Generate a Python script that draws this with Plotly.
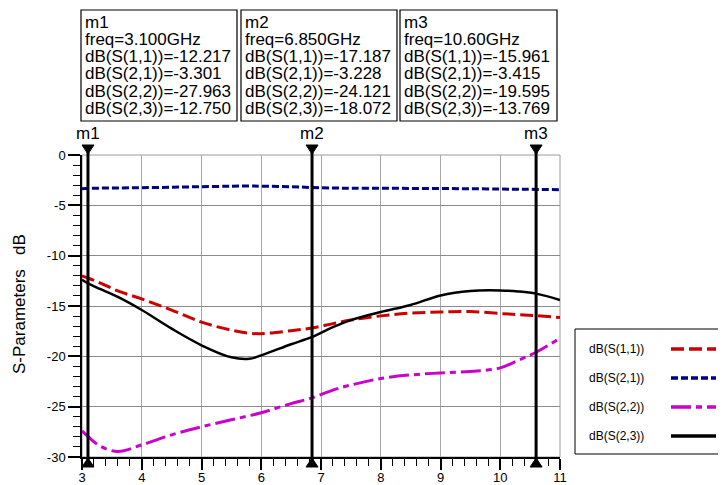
import plotly.graph_objects as go

# ---------------- data ----------------
freq = [3.0, 3.1, 3.3, 3.6, 4.0, 4.5, 5.0, 5.5, 5.8, 6.0, 6.5, 6.85, 7.2, 7.5,
        8.0, 8.5, 9.0, 9.5, 10.0, 10.3, 10.6, 11.0]
s11 = [-12.0, -12.217, -12.7, -13.5, -14.3, -15.4, -16.6, -17.4, -17.7, -17.75,
       -17.45, -17.187, -16.75, -16.4, -15.98, -15.7, -15.6, -15.55, -15.75,
       -15.85, -15.961, -16.15]
s21 = [-3.35, -3.301, -3.29, -3.27, -3.25, -3.2, -3.15, -3.1, -3.08, -3.1, -3.15,
       -3.228, -3.28, -3.3, -3.3, -3.32, -3.33, -3.35, -3.38, -3.4, -3.415, -3.45]
s22 = [-27.4, -27.963, -28.9, -29.45, -28.8, -27.8, -27.0, -26.3, -25.9, -25.6,
       -24.7, -24.121, -23.35, -22.85, -22.2, -21.85, -21.65, -21.5, -21.15,
       -20.4, -19.595, -18.2]
s23 = [-12.4, -12.75, -13.3, -14.1, -15.4, -17.25, -18.9, -20.1, -20.25, -19.9,
       -18.8, -18.072, -17.1, -16.4, -15.6, -14.9, -13.95, -13.5, -13.45, -13.55,
       -13.769, -14.4]

series_names = ["dB(S(1,1))", "dB(S(2,1))", "dB(S(2,2))", "dB(S(2,3))"]

marker_names = ["m1", "m2", "m3"]
marker_freq = [3.1, 6.85, 10.6]
marker_freq_txt = ["3.100GHz", "6.850GHz", "10.60GHz"]
marker_s11 = ["-12.217", "-17.187", "-15.961"]
marker_s21 = ["-3.301", "-3.228", "-3.415"]
marker_s22 = ["-27.963", "-24.121", "-19.595"]
marker_s23 = ["-12.750", "-18.072", "-13.769"]

x_ticks = [3, 4, 5, 6, 7, 8, 9, 10, 11]
y_ticks = [0, -5, -10, -15, -20, -25, -30]

# ---------------- layout geometry ----------------
# page has an 8px body margin; the figure is sized/offset to compensate
OFF = 8
W, H = 726 - OFF, 485 - OFF
L, R, T, B = 82, 560, 155, 457          # plot area in page pixels
FONT = "Liberation Sans, Arial, sans-serif"


def px(xp):
    return (xp - L) / (R - L)


def py(yp):
    return (B - yp) / (B - T)


styles = [
    dict(color="#CC0000", width=3, dash="13px,5px"),
    dict(color="#000080", width=3, dash="7px,3px"),
    dict(color="#CC00CC", width=3, dash="20px,5px,6px,5px"),
    dict(color="#000000", width=2.5, dash="solid"),
]

fig = go.Figure()
for name, ys, st in zip(series_names, [s11, s21, s22, s23], styles):
    fig.add_trace(go.Scatter(x=freq, y=ys, mode="lines", name=name,
                             line=dict(shape="spline", **st), showlegend=False))

shapes = []
shapes.append(dict(type="rect", xref="paper", yref="paper", x0=0, x1=1, y0=0, y1=1,
                   line=dict(color="#9a9a9a", width=1), layer="below"))
for mf in marker_freq:
    shapes.append(dict(type="line", xref="x", yref="paper", x0=mf, x1=mf,
                       y0=py(464), y1=py(148), line=dict(color="black", width=3)))
    # marker triangles, sized in pixels and anchored at the marker frequency
    shapes.append(dict(type="path", xref="x", yref="paper",
                       xsizemode="pixel", ysizemode="pixel", xanchor=mf, yanchor=1,
                       path="M-6,10 L6,10 L0,1 Z",
                       fillcolor="black", line=dict(color="black", width=1)))
    shapes.append(dict(type="path", xref="x", yref="paper",
                       xsizemode="pixel", ysizemode="pixel", xanchor=mf, yanchor=0,
                       path="M-6,-10 L6,-10 L0,-1 Z",
                       fillcolor="black", line=dict(color="black", width=1)))

annotations = []
for mn, mf in zip(marker_names, marker_freq):
    annotations.append(dict(x=mf, y=py(133), xref="x", yref="paper", text=mn,
                            showarrow=False, font=dict(size=17, color="black", family=FONT),
                            xanchor="center", yanchor="middle"))

box_left = [81, 241, 400]
box_right = [237, 397, 557]
for i in range(3):
    shapes.append(dict(type="rect", xref="paper", yref="paper",
                       x0=px(box_left[i]), x1=px(box_right[i]),
                       y0=py(121), y1=py(10), line=dict(color="black", width=1.2)))
    lines = [marker_names[i], "freq=" + marker_freq_txt[i],
             "dB(S(1,1))=" + marker_s11[i], "dB(S(2,1))=" + marker_s21[i],
             "dB(S(2,2))=" + marker_s22[i], "dB(S(2,3))=" + marker_s23[i]]
    for j, t in enumerate(lines):
        annotations.append(dict(x=px(box_left[i] + 1.5), y=py(22 + 17.3 * j),
                                xref="paper", yref="paper", text=t, showarrow=False,
                                font=dict(size=17, color="black", family=FONT),
                                xanchor="left", yanchor="middle"))

annotations.append(dict(x=px(19), y=py(304), xref="paper", yref="paper",
                        text="S-Parameters\u00a0\u00a0\u00a0dB", textangle=-90,
                        showarrow=False, font=dict(size=17, color="black", family=FONT),
                        xanchor="center", yanchor="middle"))

# custom legend (text left, line sample right)
shapes.append(dict(type="rect", xref="paper", yref="paper", x0=px(575), x1=px(740),
                   y0=py(454), y1=py(329), line=dict(color="black", width=1)))
leg_y = [349, 378, 407, 436]
for name, st, ly in zip(series_names, styles, leg_y):
    annotations.append(dict(x=px(587), y=py(ly), xref="paper", yref="paper", text=name,
                            showarrow=False, font=dict(size=12, color="black", family=FONT),
                            xanchor="left", yanchor="middle"))
    shapes.append(dict(type="line", xref="paper", yref="paper", x0=px(671), x1=px(716),
                       y0=py(ly), y1=py(ly),
                       line=dict(color=st["color"], width=3.5, dash=st["dash"])))

fig.update_layout(
    width=W, height=H,
    margin=dict(l=L - OFF, r=W - (R - OFF), t=T - OFF, b=H - (B - OFF), pad=0,
                autoexpand=False),
    paper_bgcolor="white", plot_bgcolor="white",
    font=dict(family=FONT, color="black"),
    shapes=shapes, annotations=annotations, showlegend=False,
)
fig.update_xaxes(range=[3, 11], tickvals=x_ticks, ticktext=[str(v) for v in x_ticks],
                 showgrid=True, gridcolor="#a8a8a8", gridwidth=1,
                 showline=True, linecolor="black", linewidth=1.5,
                 ticks="outside", ticklen=11, tickwidth=1.5, tickcolor="black",
                 ticklabelstandoff=-3,
                 minor=dict(dtick=0.2, tick0=3, ticks="outside", ticklen=7,
                            tickcolor="black", tickwidth=1, showgrid=False),
                 tickfont=dict(size=13, color="black", family=FONT),
                 zeroline=False, fixedrange=True, automargin=False)
fig.update_yaxes(range=[-30, 0], tickvals=y_ticks,
                 ticktext=[("-" + str(-v)) if v < 0 else str(v) for v in y_ticks],
                 showgrid=True, gridcolor="#8c8c8c", gridwidth=1,
                 showline=True, linecolor="black", linewidth=1.5,
                 ticks="outside", ticklen=12, tickwidth=1.5, tickcolor="black",
                 minor=dict(dtick=1, tick0=0, ticks="outside", ticklen=7,
                            tickcolor="black", tickwidth=1, showgrid=False),
                 tickfont=dict(size=13, color="black", family=FONT),
                 zeroline=False, fixedrange=True, automargin=False)

fig.write_html("out.html")
